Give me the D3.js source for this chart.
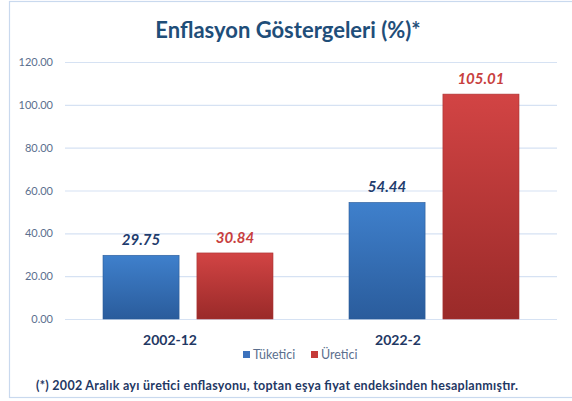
<!DOCTYPE html>
<html>
<head>
<meta charset="utf-8">
<script src="https://cdn.jsdelivr.net/npm/d3@7"></script>
<style>
body { margin: 0; background: #fff; }
text { font-family: Lato, "Open Sans", sans-serif; }
</style>
</head>
<body>
<div id="chart"></div>
<script>
// data
var categories = ["2002-12", "2022-2"];
var seriesNames = ["Tüketici", "Üretici"];
var tuketici = [29.75, 54.44];
var uretici = [30.84, 105.01];
var yTicks = [0, 20, 40, 60, 80, 100, 120];

var svgWidth = 572;
var svgHeight = 401;

var margin = { top: 62, right: 15, bottom: 82, left: 65 };
var chartWidth = 557 - margin.left;
var chartHeight = 319 - margin.top;

var svg = d3.select("#chart")
    .append("svg")
    .attr("width", svgWidth)
    .attr("height", svgHeight);

// gradients for the bars
var defs = svg.append("defs");
var gradColors = [["#3f80cc", "#2a5c9c"], ["#d24444", "#9a2a29"]];
gradColors.forEach(function(c, i) {
    var g = defs.append("linearGradient")
        .attr("id", "grad" + i)
        .attr("x1", 0).attr("y1", 0).attr("x2", 0).attr("y2", 1);
    g.append("stop").attr("offset", "0%").attr("stop-color", c[0]);
    g.append("stop").attr("offset", "100%").attr("stop-color", c[1]);
});

// outer frame
svg.append("rect")
    .attr("x", 9.5).attr("y", 1.5)
    .attr("width", 600).attr("height", 396)
    .attr("fill", "none")
    .attr("stroke", "#c9d9ee")
    .attr("stroke-width", 1.2);

svg.append("text")
    .attr("x", 288).attr("y", 38)
    .attr("text-anchor", "middle")
    .attr("font-size", 22)
    .attr("font-weight", "bold")
    .attr("fill", "#1f4e79")
    .text("Enflasyon Göstergeleri (%)*");

var chartGroup = svg.append("g")
    .attr("transform", `translate(${margin.left}, ${margin.top})`);

var x0 = d3.scaleBand()
    .domain(categories)
    .range([0, chartWidth]);

var x1 = d3.scaleBand()
    .domain(seriesNames)
    .range([38, x0.bandwidth() - 38])
    .paddingInner(0.19);

var y = d3.scaleLinear()
    .domain([0, 120])
    .range([chartHeight, 0]);

// gridlines + y labels
var leftAxis = d3.axisLeft(y)
    .tickValues(yTicks)
    .tickSize(-chartWidth)
    .tickPadding(12)
    .tickFormat(d3.format(".2f"));

var yAxisG = chartGroup.append("g").call(leftAxis);
yAxisG.select(".domain").remove();
yAxisG.selectAll(".tick line").attr("stroke", "#d6e2f3").attr("stroke-width", 1.2);
yAxisG.selectAll(".tick text")
    .attr("fill", "#5b6f8e")
    .attr("font-size", 11)
    .style("font-family", "Lato, sans-serif");

// x labels (the picture has them a bit left of the bar groups)
var labelShift = [-18, -36];
var bottomAxis = d3.axisBottom(x0).tickSize(0).tickPadding(16);
var xAxisG = chartGroup.append("g")
    .attr("transform", `translate(0, ${chartHeight})`)
    .call(bottomAxis);
xAxisG.select(".domain").remove();
xAxisG.selectAll(".tick text")
    .attr("dx", (d, i) => labelShift[i])
    .attr("fill", "#1f3864")
    .attr("font-size", 14)
    .attr("font-weight", "bold")
    .style("font-family", "Lato, sans-serif");

var rows = categories.map(function(c, i) {
    return { cat: c, vals: [tuketici[i], uretici[i]] };
});

var labelColors = ["#1f3d6e", "#c8403e"];
var strokeColors = ["#2b5b98", "#a83333"];

var groups = chartGroup.selectAll(".grp")
    .data(rows)
    .enter()
    .append("g")
    .attr("transform", d => `translate(${x0(d.cat)}, 0)`);

groups.selectAll("rect")
    .data(d => d.vals.map((v, i) => ({ name: seriesNames[i], v: v, i: i })))
    .enter()
    .append("rect")
    .attr("x", d => x1(d.name))
    .attr("y", d => y(d.v))
    .attr("width", x1.bandwidth())
    .attr("height", d => chartHeight - y(d.v))
    .attr("fill", d => `url(#grad${d.i})`)
    .attr("stroke", d => strokeColors[d.i])
    .attr("stroke-width", 0.6);

groups.selectAll(".val")
    .data(d => d.vals.map((v, i) => ({ name: seriesNames[i], v: v, i: i })))
    .enter()
    .append("text")
    .attr("x", d => x1(d.name) + x1.bandwidth() / 2)
    .attr("y", d => y(d.v) - 10)
    .attr("text-anchor", "middle")
    .attr("font-size", 15)
    .attr("font-weight", "bold")
    .attr("font-style", "italic")
    .attr("fill", d => labelColors[d.i])
    .text(d => d3.format(".2f")(d.v));

// legend
var legendX = [243, 311];
var legendColors = ["#3c72bd", "#c53a38"];
seriesNames.forEach(function(n, i) {
    svg.append("rect")
        .attr("x", legendX[i]).attr("y", 351)
        .attr("width", 7).attr("height", 7)
        .attr("fill", legendColors[i]);
    svg.append("text")
        .attr("x", legendX[i] + 10).attr("y", 359)
        .attr("font-size", 12.5)
        .attr("fill", "#5b6f8e")
        .text(n);
});

// footnote
svg.append("text")
    .attr("x", 36).attr("y", 390)
    .attr("font-size", 12.5)
    .attr("font-weight", "bold")
    .attr("fill", "#1f3864")
    .attr("textLength", 482)
    .text("(*) 2002 Aralık ayı üretici enflasyonu, toptan eşya fiyat endeksinden hesaplanmıştır.");
</script>
</body>
</html>
